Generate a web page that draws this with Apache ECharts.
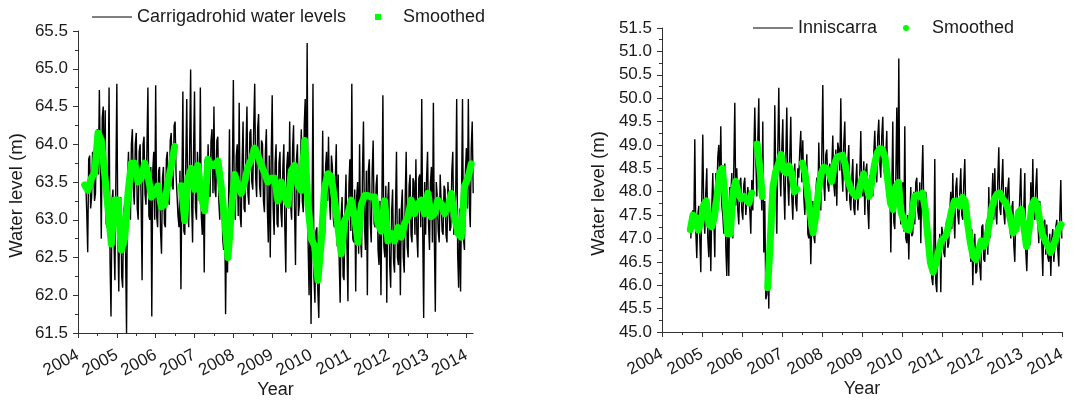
<!DOCTYPE html>
<html><head><meta charset="utf-8">
<script src="https://cdn.jsdelivr.net/npm/echarts@6/dist/echarts.min.js"></script>
<style>html,body{margin:0;padding:0;background:#fff}#c{width:1076px;height:401px}</style>
</head><body><div id="c"></div>
<script>
// ---- data ----
const yearTicks = [2004,2005,2006,2007,2008,2009,2010,2011,2012,2013,2014];

// Carrigadrohid raw levels, one reading every 0.025 yr from 2004.20
const carrRawStart = 2004.20, carrRawStep = 0.025;
const carrRaw = [
63.5,63.1,62.57,63.8,63.85,63.15,63.3,63.9,63.8,63.25,63.35,64.1,64.2,63.6,64.72,63.7,62.75,64.35,64.5,63.35,
64.45,62.95,62.9,63.4,64.75,62.45,61.72,63.25,63.4,62.75,62.2,63.55,64.8,62.85,62.05,63.25,63.3,62.25,62.1,63.1,
63.2,62.55,61.5,63.55,63.9,63.15,63.0,64.0,64.2,63.4,63.2,64.0,64.15,63.15,63.0,63.9,64.0,63.25,62.2,64.0,
64.1,63.35,63.2,63.95,64.75,63.05,63.0,63.7,61.72,63.65,63.9,63.0,64.78,63.05,62.9,63.65,63.7,62.85,62.55,63.55,
63.7,62.95,62.9,63.8,63.9,63.25,63.2,64.05,64.15,63.45,63.4,64.25,64.3,63.6,63.6,63.05,62.9,63.65,62.08,63.45,
64.7,62.85,62.8,63.75,64.6,63.25,62.9,63.95,64.99,63.25,62.7,63.9,64.7,63.15,63.0,63.9,63.9,63.25,64.75,63.05,
62.8,63.5,62.3,63.8,63.8,63.4,64.0,63.35,63.3,64.05,64.2,63.35,64.5,63.4,63.3,64.05,64.1,63.25,63.0,63.7,
63.6,62.75,62.6,63.2,61.75,62.95,62.3,63.2,64.2,62.75,62.9,63.65,64.85,63.2,63.0,63.85,64.0,63.05,64.55,63.05,
62.9,63.75,64.3,63.15,63.1,63.95,64.5,63.35,63.2,64.15,64.2,63.5,63.4,64.25,64.8,63.55,63.3,64.2,64.4,63.45,
63.3,64.05,64.0,63.25,63.1,63.9,64.2,63.15,62.7,63.85,62.5,63.85,64.65,63.15,62.8,63.75,64.0,62.95,62.9,63.75,
63.9,63.1,62.9,63.7,64.0,62.9,62.3,63.7,63.9,63.15,64.3,63.2,63.0,63.95,64.25,63.15,62.4,63.8,64.0,63.05,
63.2,63.75,64.2,63.25,63.1,64.25,64.6,63.15,65.34,62.65,62.0,63.2,61.62,63.05,64.8,62.25,61.9,62.85,62.9,62.05,
61.7,62.65,62.6,63.05,64.18,62.75,62.8,63.7,63.9,63.25,64.1,63.25,63.0,63.85,63.7,63.0,62.9,63.55,64.0,62.65,
63.6,62.45,61.9,63.05,63.3,62.25,62.2,63.15,63.6,62.65,61.92,63.45,63.8,62.85,64.8,62.75,62.7,63.4,62.05,63.3,
63.5,62.55,64.0,62.75,62.5,63.65,64.3,62.95,62.6,63.65,62.0,63.65,63.8,62.95,62.7,63.65,64.05,62.95,62.9,63.45,
63.6,62.6,62.4,63.25,62.0,63.25,64.65,62.65,62.5,63.45,61.9,63.25,63.5,62.4,62.1,63.1,63.4,62.45,62.3,63.15,
63.9,62.5,62.4,63.15,62.0,63.15,63.4,62.5,62.3,63.3,63.9,62.65,62.5,63.45,63.6,62.8,62.7,63.55,63.5,62.8,
63.8,62.8,62.5,63.55,63.6,62.9,64.6,62.85,61.7,63.5,62.8,63.55,63.9,62.95,62.6,63.5,63.7,62.7,64.55,62.75,
61.78,63.5,63.3,62.85,62.7,63.6,63.6,62.85,62.8,63.45,63.4,62.8,62.7,63.5,63.5,62.85,62.9,63.65,63.9,62.8,
62.8,63.35,64.6,62.55,62.1,63.15,62.05,63.3,64.6,62.75,62.6,63.65,63.95,63.15,64.6,63.2,62.9,63.95,64.3,63.35
];

// Carrigadrohid smoothed, one value every 0.0858 yr from 2004.172 (null = gap)
const carrSmoothStart = 2004.172, carrSmoothStep = 0.0858;
const carrSmooth = [
63.46,63.39,63.55,63.62,64.15,64.05,63.6,63.15,62.68,63.26,
63.26,62.6,62.75,63.35,63.75,63.75,63.5,63.55,63.75,63.6,
63.3,63.35,63.45,63.17,63.2,63.5,63.72,63.97,null,63.45,
62.99,63.55,63.68,63.4,63.72,63.3,63.12,63.8,63.72,63.72,
63.78,63.43,63.0,62.5,63.1,63.6,63.45,63.35,63.5,63.7,
63.8,63.95,63.85,63.72,63.62,63.5,63.55,63.55,63.25,63.5,
63.3,63.2,63.65,63.72,63.45,63.39,64.05,63.2,62.75,62.65,
62.2,62.72,63.43,63.61,63.57,63.26,62.9,62.55,62.99,63.08,
63.26,63.04,62.7,63.2,63.32,63.32,63.3,63.3,62.95,62.85,
63.25,62.72,62.82,62.72,62.9,62.77,62.95,63.04,63.26,63.08,
63.21,63.26,63.08,63.35,63.04,63.08,63.26,63.21,63.08,63.17,
63.35,63.04,62.82,62.77,63.45,63.55,63.74
];

// Inniscarra raw levels, one reading every 0.025 yr from 2004.72
const innRawStart = 2004.72, innRawStep = 0.025;
const innRaw = [
47.0,47.5,47.6,47.2,49.12,47.15,46.58,47.5,47.7,47.0,46.28,47.9,49.22,47.45,47.1,48.0,48.5,47.0,46.6,47.6,
46.3,47.7,48.4,47.4,46.6,48.4,47.9,48.75,49.0,48.15,49.4,47.7,47.5,47.1,48.6,46.8,46.2,47.6,46.2,48.1,
47.9,48.4,47.0,48.5,49.9,47.7,48.5,47.6,47.3,48.2,48.3,47.6,47.4,48.15,48.3,47.5,47.5,48.1,48.1,47.6,
47.1,48.25,47.6,48.8,49.8,48.7,47.9,49.1,50.0,48.0,48.3,47.6,49.5,46.7,47.8,45.7,45.8,46.6,45.5,47.5,
47.5,48.1,48.2,47.9,49.85,48.15,47.1,48.9,50.22,48.45,47.9,48.9,49.55,48.15,47.4,48.75,49.8,48.2,47.7,48.75,
49.6,47.9,47.4,48.3,48.6,47.75,47.58,48.5,48.3,48.9,49.3,48.2,49.1,47.9,47.5,48.1,48.8,47.1,47.0,47.45,
46.45,47.45,47.8,47.05,46.9,48.0,48.3,47.7,49.05,48.0,47.6,48.8,50.28,48.2,47.8,48.8,48.9,48.15,48.0,48.6,
48.2,48.55,49.2,48.15,47.9,48.9,47.7,49.05,48.9,48.45,50.0,48.45,48.0,49.05,49.5,48.25,47.8,48.6,49.0,47.8,
47.6,48.3,48.7,47.65,47.5,48.2,48.6,47.6,47.6,48.4,49.3,48.0,47.9,48.65,47.5,48.45,48.6,47.65,47.2,48.35,
48.3,48.0,47.9,48.85,49.3,48.5,48.2,49.2,49.54,48.6,48.3,49.2,49.6,48.45,48.4,48.8,49.3,47.9,48.0,48.2,
46.7,48.0,49.5,47.35,47.2,48.3,49.8,47.85,50.85,47.7,47.3,47.9,48.2,47.15,49.4,47.0,46.9,47.5,46.55,47.5,
48.1,47.05,47.1,48.0,47.3,48.2,48.3,47.6,47.4,48.2,46.9,48.25,49.0,47.65,47.3,48.0,47.6,47.0,46.8,47.15,
46.9,46.15,46.0,46.6,48.7,46.05,45.85,46.9,46.7,47.1,45.85,47.25,47.1,46.7,46.6,47.25,47.4,46.8,46.9,47.6,
48.0,47.2,48.4,47.45,47.0,48.1,48.3,47.5,47.3,48.0,48.5,47.5,47.4,48.2,48.7,47.5,47.6,47.2,47.5,46.9,
46.5,47.2,46.0,46.9,47.1,46.25,46.3,46.9,46.9,46.4,46.1,47.25,47.3,46.55,46.5,47.2,47.4,46.65,48.1,47.0,
47.3,47.8,48.4,47.4,48.5,47.55,47.3,48.25,48.95,47.65,47.5,48.2,48.7,47.55,47.3,48.1,47.5,48.05,48.3,47.25,
47.0,47.65,47.8,46.85,46.5,47.5,47.5,47.15,47.3,47.9,48.5,47.3,47.2,47.65,48.4,46.7,46.3,47.15,47.3,46.85,
48.2,47.3,48.7,47.5,47.4,48.1,48.5,47.4,46.9,47.8,47.8,46.9,46.2,47.35,47.4,46.65,47.3,46.6,46.5,47.1,
46.2,47.0,47.2,46.5,46.8,47.25,47.4,46.75,46.4,47.5,48.25,47.0
];

// Inniscarra smoothed, one value every 0.0667 yr from 2004.708 (null = gap)
const innSmoothStart = 2004.708, innSmoothStep = 0.0667;
const innSmooth = [
47.19,47.5,47.45,47.18,47.35,47.72,47.8,47.3,47.25,47.45,
47.9,48.4,48.5,47.9,47.1,47.1,48.0,48.22,47.95,47.85,
47.9,47.83,47.76,47.97,null,49.02,48.55,47.9,null,45.95,
47.0,48.11,48.43,48.58,48.8,48.45,48.4,48.55,48.4,48.0,
48.05,null,48.61,48.4,47.95,47.5,47.12,47.47,48.0,48.38,
48.52,48.5,48.4,48.22,48.58,48.74,48.76,48.78,48.6,48.25,
48.08,47.97,47.9,47.93,48.2,48.38,48.15,47.9,48.2,48.57,
48.82,48.92,48.9,48.73,48.25,47.76,47.62,48.11,48.2,47.55,
47.4,47.2,47.18,47.5,47.9,47.93,47.9,47.97,47.65,47.05,
46.48,46.28,46.45,46.72,46.95,47.0,47.08,47.33,47.62,47.8,
47.8,47.69,47.88,47.8,47.3,46.9,46.62,46.55,46.72,46.95,
46.83,46.97,47.3,47.65,47.85,47.95,47.97,47.85,47.78,47.65,
47.4,47.12,47.19,47.56,47.62,47.26,46.83,47.19,47.7,47.82,
47.72,47.38,47.08,46.96,46.84,46.7,46.83,47.0,47.2,47.3
];

// ---- build ----
function pairs(start, step, vals) {
  return vals.map((v, i) => [+(start + i * step).toFixed(4), v]);
}
const FONT = '"Liberation Sans", Arial, sans-serif';
const TXT = '#1a1a1a';
const AX = '#333';
const GREEN = '#00ff00';

function xAxis(gi, max) {
  return {
    type: 'value', gridIndex: gi, min: 2004, max: max, interval: 1,
    name: 'Year', nameLocation: 'middle', nameGap: 48, nameMoveOverlap: false,
    nameTextStyle: {fontSize: 18, color: TXT, fontFamily: FONT},
    axisLine: {show: true, onZero: false, lineStyle: {color: AX, width: 1}},
    axisTick: {show: true, length: 5, customValues: yearTicks, lineStyle: {color: AX, width: 1}},
    minorTick: {show: true, splitNumber: 2, length: 3, lineStyle: {color: AX, width: 1}},
    axisLabel: {customValues: yearTicks, rotate: 28, margin: 21, fontSize: 17, color: TXT, fontFamily: FONT,
                formatter: v => String(v)},
    splitLine: {show: false}
  };
}
function yAxis(gi, min, max, gap) {
  return {
    type: 'value', gridIndex: gi, min: min, max: max, interval: 0.5,
    name: 'Water level (m)', nameLocation: 'middle', nameGap: gap, nameRotate: 90, nameMoveOverlap: false,
    nameTextStyle: {fontSize: 18.5, color: TXT, fontFamily: FONT, padding: [0, 27, 0, 0]},
    axisLine: {show: true, onZero: false, lineStyle: {color: AX, width: 1}},
    axisTick: {show: true, length: 5, lineStyle: {color: AX, width: 1}},
    minorTick: {show: true, splitNumber: 2, length: 3, lineStyle: {color: AX, width: 1}},
    axisLabel: {margin: 10, fontSize: 17, color: TXT, fontFamily: FONT, formatter: v => v.toFixed(1)},
    splitLine: {show: false}
  };
}
const legTxt = {fontSize: 18, color: TXT, fontFamily: FONT};

const option = {
  animation: false,
  backgroundColor: '#fff',
  grid: [
    {left: 78, top: 31, width: 395, height: 302, containLabel: false, outerBoundsMode: 'none'},
    {left: 662, top: 28, width: 400, height: 304, containLabel: false, outerBoundsMode: 'none'}
  ],
  xAxis: [xAxis(0, 2014.17), xAxis(1, 2014)],
  yAxis: [yAxis(0, 61.5, 65.5, 52), yAxis(1, 45, 51.5, 54)],
  legend: [
    {left: 92, top: 8, padding: 0, itemWidth: 40, itemHeight: 1, itemStyle: {borderWidth: 0},
     data: [{name: 'Carrigadrohid water levels', icon: 'rect'}], textStyle: legTxt, selectedMode: false},
    {left: 375, top: 8, padding: 0, itemWidth: 6, itemHeight: 6, itemStyle: {borderWidth: 0},
     data: [{name: 'Smoothed', icon: 'rect'}], textStyle: Object.assign({padding: [0, 0, 0, 17]}, legTxt), selectedMode: false},
    {left: 753, top: 19, padding: 0, itemWidth: 40, itemHeight: 1, itemStyle: {borderWidth: 0},
     data: [{name: 'Inniscarra', icon: 'rect'}], textStyle: legTxt, selectedMode: false},
    {left: 903, top: 19, padding: 0, itemWidth: 6, itemHeight: 6, itemStyle: {borderWidth: 0},
     data: [{name: 'Smoothed', icon: 'circle'}], textStyle: Object.assign({padding: [0, 0, 0, 18]}, legTxt), selectedMode: false}
  ],
  series: [
    {name: 'Carrigadrohid water levels', type: 'line', xAxisIndex: 0, yAxisIndex: 0, symbol: 'none',
     data: pairs(carrRawStart, carrRawStep, carrRaw), lineStyle: {color: '#000', width: 1.4}, itemStyle: {color: '#000'}},
    {name: 'Smoothed', type: 'line', xAxisIndex: 0, yAxisIndex: 0, symbol: 'none', connectNulls: false,
     data: pairs(carrSmoothStart, carrSmoothStep, carrSmooth),
     lineStyle: {color: GREEN, width: 7, cap: 'round', join: 'round'}, itemStyle: {color: GREEN}},
    {name: 'Inniscarra', type: 'line', xAxisIndex: 1, yAxisIndex: 1, symbol: 'none',
     data: pairs(innRawStart, innRawStep, innRaw), lineStyle: {color: '#000', width: 1.4}, itemStyle: {color: '#000'}},
    {name: 'Smoothed', type: 'line', xAxisIndex: 1, yAxisIndex: 1, symbol: 'none', connectNulls: false,
     data: pairs(innSmoothStart, innSmoothStep, innSmooth),
     lineStyle: {color: GREEN, width: 7, cap: 'round', join: 'round'}, itemStyle: {color: GREEN}}
  ]
};
const chart = echarts.init(document.getElementById('c'), null, {renderer: 'canvas'});
chart.setOption(option);
</script>
</body></html>
